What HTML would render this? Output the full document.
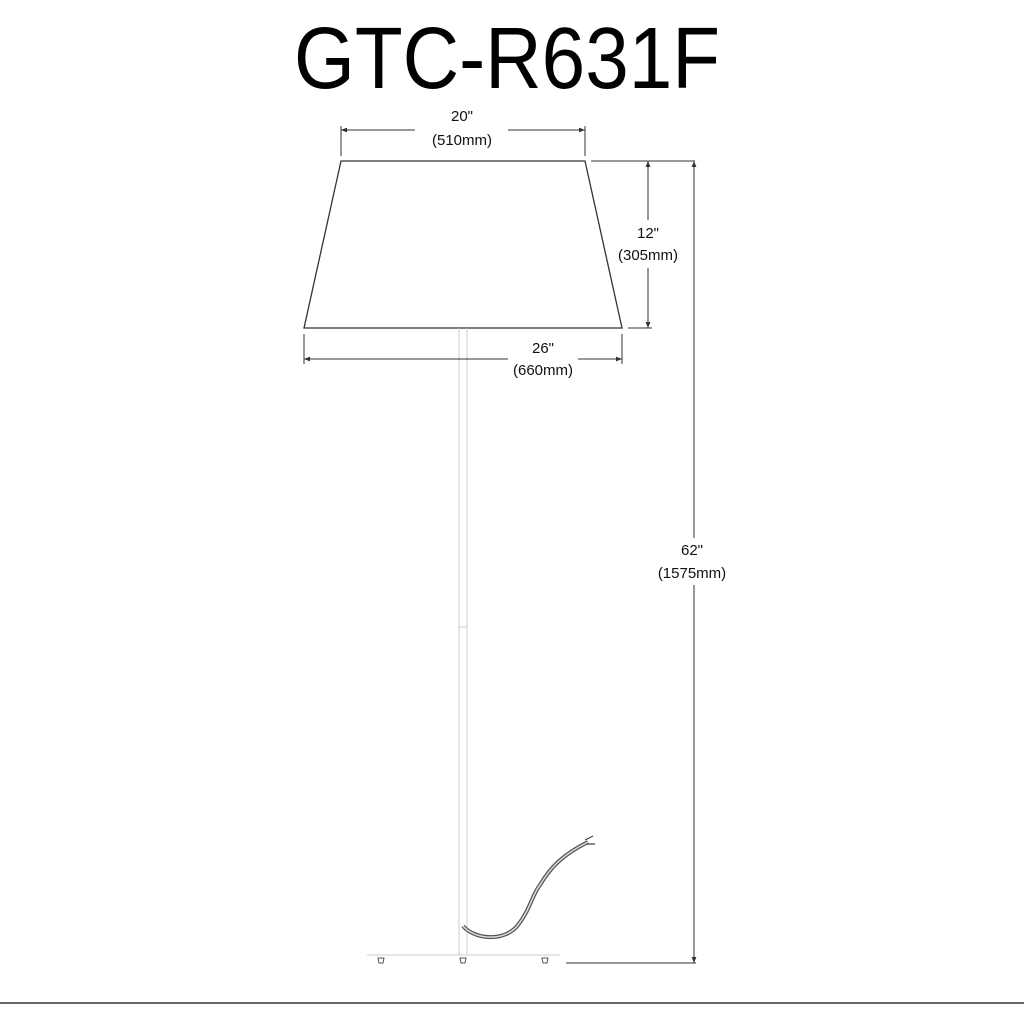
<!DOCTYPE html>
<html><head><style>
html,body{margin:0;padding:0;background:#fff;}
body{width:1024px;height:1024px;overflow:hidden;position:relative;font-family:"Liberation Sans",Arial,sans-serif;}
</style></head><body>
<svg width="1024" height="1024" viewBox="0 0 1024 1024" xmlns="http://www.w3.org/2000/svg" style="position:absolute;left:0;top:0">
<defs>
<marker id="a" viewBox="0 0 10 10" refX="10" refY="5" markerWidth="8" markerHeight="6" orient="auto-start-reverse" markerUnits="userSpaceOnUse"><path d="M0,1 L10,5 L0,9" fill="#333"/></marker>
</defs>
<text x="294" y="88" font-size="87" textLength="426" lengthAdjust="spacingAndGlyphs" font-family="Liberation Sans, sans-serif" fill="#000">GTC-R631F</text>
<polygon points="341,161 585,161 622,328 304,328" fill="#fff" stroke="#333" stroke-width="1.3"/>
<g stroke="#ccc" stroke-width="1" fill="none">
<line x1="459" y1="328" x2="459" y2="955"/>
<line x1="467" y1="328" x2="467" y2="955"/>
<line x1="459" y1="627" x2="467" y2="627"/>
<line x1="367" y1="955" x2="560" y2="955"/>
</g>
<g stroke="#555" stroke-width="1" fill="#fff">
<path d="M378,958 h6 l-1,5 h-4 z"/>
<path d="M460,958 h6 l-1,5 h-4 z"/>
<path d="M542,958 h6 l-1,5 h-4 z"/>
</g>
<path d="M463,926 C475,940 505,942 518,925 C530,910 532,895 540,885 C550,868 562,855 588,842" fill="none" stroke="#555" stroke-width="4"/>
<path d="M463,926 C475,940 505,942 518,925 C530,910 532,895 540,885 C550,868 562,855 588,842" fill="none" stroke="#ddd" stroke-width="1.5"/>
<path d="M585,840 l8,-4 M587,844 l8,0" stroke="#444" stroke-width="1.2"/>
<g stroke="#333" stroke-width="1" fill="none">
<line x1="341" y1="126" x2="341" y2="156"/>
<line x1="585" y1="126" x2="585" y2="156"/>
<line x1="341" y1="130" x2="415" y2="130" marker-start="url(#a)"/>
<line x1="508" y1="130" x2="585" y2="130" marker-end="url(#a)"/>
<line x1="304" y1="334" x2="304" y2="364"/>
<line x1="622" y1="334" x2="622" y2="364"/>
<line x1="304" y1="359" x2="508" y2="359" marker-start="url(#a)"/>
<line x1="578" y1="359" x2="622" y2="359" marker-end="url(#a)"/>
<line x1="591" y1="161" x2="695" y2="161"/>
<line x1="628" y1="328" x2="652" y2="328"/>
<line x1="648" y1="161" x2="648" y2="220" marker-start="url(#a)"/>
<line x1="648" y1="268" x2="648" y2="328" marker-end="url(#a)"/>
<line x1="694" y1="161" x2="694" y2="538" marker-start="url(#a)"/>
<line x1="694" y1="585" x2="694" y2="963" marker-end="url(#a)"/>
<line x1="566" y1="963" x2="696" y2="963"/>
<line x1="0" y1="1003" x2="1024" y2="1003" stroke-width="1.5"/>
</g>
<g font-size="15" fill="#111" text-anchor="middle" font-family="Liberation Sans, sans-serif">
<text x="462" y="121">20"</text>
<text x="462" y="145">(510mm)</text>
<text x="543" y="353">26"</text>
<text x="543" y="375">(660mm)</text>
<text x="648" y="238">12"</text>
<text x="648" y="260">(305mm)</text>
<text x="692" y="555">62"</text>
<text x="692" y="578">(1575mm)</text>
</g>
</svg>
</body></html>
